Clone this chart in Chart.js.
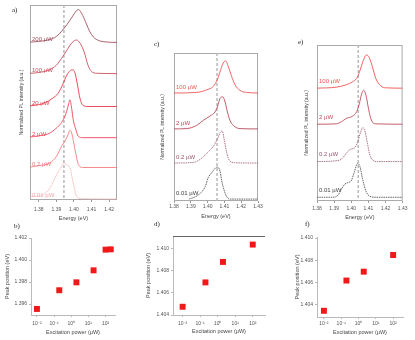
<!DOCTYPE html>
<html>
<head>
<meta charset="utf-8">
<title>PL spectra and peak positions</title>
<script src="https://cdn.jsdelivr.net/npm/chart.js@4.4.1/dist/chart.umd.min.js"></script>
<style>
  html, body { margin: 0; padding: 0; background: #fff; }
  #fig { position: relative; width: 415px; height: 340px; overflow: hidden; }
  #fig canvas { position: absolute; }
  .tag { position: absolute; font: 7px "Liberation Serif", "DejaVu Serif", serif; color: #222; }
</style>
</head>
<body>
<div id="fig">
  <canvas id="specA" width="125" height="222" style="left:0px;top:0px"></canvas>
  <canvas id="specC" width="126" height="182" style="left:140px;top:40px"></canvas>
  <canvas id="specE" width="130" height="192" style="left:280px;top:30px"></canvas>
  <canvas id="peakB" width="125" height="112" style="left:0px;top:228px"></canvas>
  <canvas id="peakD" width="130" height="114" style="left:140px;top:226px"></canvas>
  <canvas id="peakF" width="125" height="114" style="left:285px;top:226px"></canvas>
  <div class="tag" style="left:12px;top:6px">a)</div>
  <div class="tag" style="left:14px;top:222px">b)</div>
  <div class="tag" style="left:154px;top:40px">c)</div>
  <div class="tag" style="left:154px;top:220px">d)</div>
  <div class="tag" style="left:298px;top:38px">e)</div>
  <div class="tag" style="left:305px;top:220px">f)</div>
</div>
<script>
// --- spectra (energy in eV, normalised intensity) ---
const ticksA = [1.38, 1.39, 1.40, 1.41, 1.42];
const ticksCE = [1.38, 1.39, 1.40, 1.41, 1.42, 1.43];

const labelsA = ['200 µW', '100 µW', '20 µW', '2 µW', '0.2 µW', '0.01 µW'];
const offsetsA = [4.46, 3.57, 2.63, 1.74, 0.89, 0];
const specA200 = [[1.375,0.02],[1.380,0.04],[1.386,0.09],[1.390,0.18],[1.393,0.33],[1.396,0.52],[1.399,0.74],[1.4015,0.92],[1.4025,0.95],[1.405,0.78],[1.407,0.55],[1.409,0.32],[1.411,0.17],[1.413,0.09],[1.417,0.03],[1.4245,0.01]];
const specA100 = [[1.375,0.02],[1.380,0.04],[1.386,0.12],[1.390,0.25],[1.393,0.45],[1.396,0.68],[1.399,0.9],[1.4015,0.97],[1.4035,0.88],[1.406,0.6],[1.408,0.25],[1.410,0.07],[1.413,0.02],[1.4245,0.01]];
const specA20 = [[1.375,0.03],[1.380,0.06],[1.384,0.13],[1.388,0.25],[1.391,0.39],[1.394,0.68],[1.396,0.91],[1.398,1.04],[1.3993,1.06],[1.4006,0.97],[1.402,0.63],[1.4034,0.25],[1.405,0.05],[1.408,0.01],[1.4245,0.01]];
const specA2 = [[1.375,0.03],[1.380,0.06],[1.3863,0.14],[1.389,0.24],[1.392,0.38],[1.3939,0.52],[1.3958,0.75],[1.397,0.98],[1.3977,1.09],[1.3987,0.85],[1.3996,0.52],[1.4011,0.24],[1.4025,0.05],[1.405,0.01],[1.4245,0.01]];
const specA02 = [[1.375,0.02],[1.380,0.06],[1.3863,0.14],[1.3901,0.33],[1.393,0.62],[1.3949,0.76],[1.3967,0.95],[1.3977,1.07],[1.3987,1.0],[1.4006,0.52],[1.4025,0.1],[1.405,0.01],[1.4245,0.01]];
const specA001 = [[1.375,0.06],[1.3825,0.12],[1.3863,0.31],[1.3901,0.69],[1.393,0.93],[1.3939,1.03],[1.3958,0.98],[1.3977,0.89],[1.3996,0.46],[1.4015,0.07],[1.404,0.01],[1.4245,0.0]];
const colorsA = ['#a2505e', '#c7505f', '#e43b4b', '#f0465a', '#f17a7e', '#f4a6a8'];

const labelsC = ['100 µW', '2 µW', '0.2 µW', '0.01 µW'];
const offsetsC = [3.31, 2.19, 1.125, 0];
const specC100 = [[1.38,0],[1.3935,0.02],[1.3995,0.1],[1.4034,0.21],[1.4058,0.42],[1.4078,0.73],[1.4093,0.94],[1.4108,1.0],[1.4123,0.83],[1.4143,0.52],[1.4163,0.26],[1.4193,0.08],[1.4233,0.02],[1.43,0]];
const specC2 = [[1.38,0],[1.3875,0.01],[1.3935,0.11],[1.3975,0.27],[1.4014,0.4],[1.4044,0.53],[1.4058,0.69],[1.4074,0.95],[1.409,1.0],[1.4104,0.84],[1.4118,0.53],[1.4133,0.27],[1.4153,0.11],[1.4193,0.01],[1.43,0]];
const specC02 = [[1.38,0],[1.3915,0.02],[1.3965,0.15],[1.4004,0.35],[1.4034,0.52],[1.4058,0.75],[1.4075,0.95],[1.4087,1.0],[1.41,0.7],[1.4115,0.3],[1.413,0.08],[1.416,0.01],[1.43,0]];
const specC001 = [[1.389,0],[1.3945,0.13],[1.3985,0.38],[1.4004,0.67],[1.4024,0.82],[1.4058,1.0],[1.4074,0.87],[1.4084,0.57],[1.4098,0.28],[1.4113,0.08],[1.4133,0],[1.43,0]];
const colorsC = ['#f05656', '#b84a58', '#9a5566', '#3c3c3c'];

const labelsE = ['100 µW', '2 µW', '0.2 µW', '0.01 µW'];
const offsetsE = [3.21, 2.15, 1.05, 0];
const specE100 = [[1.38,0],[1.3913,0.03],[1.3971,0.1],[1.4009,0.19],[1.4032,0.29],[1.4051,0.52],[1.407,0.81],[1.4089,0.98],[1.4105,0.9],[1.4124,0.62],[1.4143,0.29],[1.4172,0.07],[1.4201,0.01],[1.43,0]];
const specE2 = [[1.38,0],[1.3913,0.01],[1.3942,0.07],[1.3971,0.17],[1.4009,0.24],[1.4032,0.37],[1.4047,0.6],[1.406,0.88],[1.4072,1.0],[1.4086,0.85],[1.4099,0.5],[1.4111,0.22],[1.4124,0.06],[1.4143,0.01],[1.43,0]];
const specE02 = [[1.38,0],[1.3903,0.02],[1.3942,0.07],[1.3971,0.24],[1.399,0.35],[1.4009,0.38],[1.4024,0.43],[1.4037,0.57],[1.4051,0.81],[1.4068,1.0],[1.4082,0.86],[1.4095,0.52],[1.4109,0.19],[1.4124,0.05],[1.4153,0],[1.43,0]];
const specE001 = [[1.38,0],[1.3894,0],[1.3924,0.07],[1.3942,0.23],[1.3961,0.38],[1.398,0.43],[1.3999,0.48],[1.4018,0.74],[1.4037,1.0],[1.4051,0.9],[1.4066,0.54],[1.4086,0.18],[1.4105,0.04],[1.4143,0],[1.43,0]];
const colorsE = ['#f25050', '#c04c5a', '#94526a', '#404040'];

const markerA = 1.3943, markerC = 1.4056, markerE = 1.4041;

// --- peak position vs excitation power ---
const powerTicks = [0.01, 0.1, 1, 10, 100];
const powerTickLabels = ['10⁻²', '10⁻¹', '10⁰', '10¹', '10²'];
const powerB = [0.01, 0.2, 2, 20, 100, 200];
const peakB = [1.39555, 1.39725, 1.39797, 1.39906, 1.40094, 1.40097];
const ticksB = [1.396, 1.398, 1.400, 1.402];
const powerDF = [0.01, 0.2, 2, 100];
const peakD = [1.40474, 1.40693, 1.40877, 1.41033];
const peakF = [1.40346, 1.40618, 1.40698, 1.40848];
const ticksDF = [1.404, 1.406, 1.408, 1.410];

Chart.defaults.font.family = '"Liberation Sans", Arial, sans-serif';
Chart.defaults.color = '#555';

// frame, dashed reference line and the power labels over each curve
const spectraDecor = {
    id: 'spectraDecor',
    beforeDatasetsDraw(chart, args, opts) {
        const {ctx, chartArea: a, scales: {x}} = chart;
        ctx.save();
        ctx.strokeStyle = '#aaa';
        ctx.lineWidth = 1;
        ctx.strokeRect(a.left + 0.5, a.top + 0.5, a.width - 1, a.height - 1);
        const px = x.getPixelForValue(opts.marker);
        ctx.strokeStyle = '#b8b8b8';
        ctx.lineWidth = 1.5;
        ctx.setLineDash([3, 2]);
        ctx.beginPath();
        ctx.moveTo(px, a.top);
        ctx.lineTo(px, a.bottom);
        ctx.stroke();
        ctx.restore();
    },
    afterDatasetsDraw(chart, args, opts) {
        const {ctx, chartArea: a, scales: {y}} = chart;
        ctx.save();
        ctx.font = '6px "Liberation Sans", Arial, sans-serif';
        ctx.textBaseline = 'bottom';
        chart.data.datasets.forEach(function (ds) {
            ctx.fillStyle = ds.borderColor;
            ctx.fillText(ds.label, a.left + 2, y.getPixelForValue(ds.stackBase) - opts.gap);
        });
        ctx.restore();
    }
};

const topLine = {
    id: 'topLine',
    afterDraw(chart, args, opts) {
        if (!opts.color) return;
        const {ctx, chartArea: a} = chart;
        ctx.save();
        ctx.strokeStyle = opts.color;
        ctx.lineWidth = 1.2;
        ctx.beginPath();
        ctx.moveTo(a.left, a.top + 0.5);
        ctx.lineTo(a.right, a.top + 0.5);
        ctx.stroke();
        ctx.restore();
    }
};

function spectra(id, o) {
    const datasets = o.curves.map(function (c, i) {
        return {
            label: o.labels[i],
            stackBase: o.offsets[i],
            data: c.map(p => ({x: p[0], y: p[1] + o.offsets[i]})),
            borderColor: o.colors[i],
            borderWidth: o.dashed[i] ? 0.8 : 0.9,
            borderDash: o.dashed[i] ? [1.5, 0.8] : [],
            pointRadius: 0,
            cubicInterpolationMode: 'monotone',
            fill: false
        };
    });
    new Chart(document.getElementById(id), {
        type: 'line',
        data: {datasets: datasets},
        plugins: [spectraDecor],
        options: {
            responsive: false,
            animation: false,
            layout: {padding: o.pad},
            plugins: {
                legend: {display: false},
                tooltip: {enabled: false},
                spectraDecor: {marker: o.marker, gap: o.gap}
            },
            scales: {
                x: {
                    type: 'linear', min: o.xMin, max: o.xMax,
                    afterBuildTicks: s => { s.ticks = o.ticks.map(v => ({value: v})); },
                    afterFit: s => { s.height = o.xH; },
                    ticks: {callback: v => v.toFixed(2), font: {size: 5}, padding: o.tickPad, maxRotation: 0, autoSkip: false},
                    grid: {display: true, drawOnChartArea: false, tickLength: 2, color: '#999'},
                    border: {display: false},
                    title: {display: true, text: 'Energy (eV)', font: {size: 5.5}, color: '#444', padding: {top: 0, bottom: o.xTitlePad}}
                },
                y: {
                    min: o.yMin, max: o.yMax,
                    afterFit: s => { s.width = o.yW; },
                    ticks: {display: false},
                    grid: {display: false},
                    border: {display: false},
                    title: {display: true, text: 'Normalized PL intensity (a.u.)', font: {size: 5}, color: '#444', padding: {top: o.yTitlePad, bottom: 0}}
                }
            }
        }
    });
}

function peaks(id, o) {
    new Chart(document.getElementById(id), {
        type: 'scatter',
        data: {
            datasets: [{
                data: o.x.map((v, i) => ({x: v, y: o.y[i]})),
                pointStyle: 'rect',
                pointRadius: 4.2,
                backgroundColor: '#f01818',
                borderWidth: 0
            }]
        },
        plugins: [topLine],
        options: {
            responsive: false,
            animation: false,
            clip: false,
            layout: {padding: o.pad},
            plugins: {legend: {display: false}, tooltip: {enabled: false}, topLine: {color: o.top}},
            scales: {
                x: {
                    type: 'logarithmic', min: o.xMin, max: o.xMax,
                    afterBuildTicks: s => { s.ticks = powerTicks.map(v => ({value: v})); },
                    afterFit: s => { s.height = o.xH; },
                    ticks: {callback: (v, i) => powerTickLabels[i], font: {size: 5}, padding: o.tickPad, maxRotation: 0, autoSkip: false},
                    grid: {display: true, drawOnChartArea: false, tickLength: 2, color: '#bbb'},
                    border: {color: '#bbb'},
                    title: {display: true, text: 'Excitation power (µW)', font: {size: 5.5}, color: '#444', padding: {top: 0, bottom: o.xTitlePad}}
                },
                y: {
                    min: o.yMin, max: o.yMax,
                    afterBuildTicks: s => { s.ticks = o.ticks.map(v => ({value: v})); },
                    afterFit: s => { s.width = o.yW; },
                    ticks: {callback: v => v.toFixed(3), font: {size: 5}, padding: 2},
                    grid: {display: true, drawOnChartArea: false, tickLength: 2, color: '#bbb'},
                    border: {color: '#bbb'},
                    title: {display: true, text: 'Peak position (eV)', font: {size: 5.5}, color: '#444', padding: {top: o.yTitlePad, bottom: 0}}
                }
            }
        }
    });
}

spectra('specA', {
    curves: [specA200, specA100, specA20, specA2, specA02, specA001],
    labels: labelsA, offsets: offsetsA, colors: colorsA,
    dashed: [false, false, false, false, false, true],
    ticks: ticksA, marker: markerA, gap: 0.5,
    xMin: 1.375, xMax: 1.4245, yMin: -0.03, yMax: 5.54,
    pad: {left: 0, top: 5, right: 8, bottom: 0},
    yW: 30, xH: 22, tickPad: 4.5, xTitlePad: 0.7, yTitlePad: 19
});

spectra('specC', {
    curves: [specC100, specC2, specC02, specC001],
    labels: labelsC, offsets: offsetsC, colors: colorsC,
    dashed: [false, false, true, true],
    ticks: ticksCE, marker: markerC, gap: 3,
    xMin: 1.38, xMax: 1.43, yMin: -0.06, yMax: 4.56,
    pad: {left: 0, top: 13, right: 8, bottom: 0},
    yW: 34, xH: 21, tickPad: 0.5, xTitlePad: 2.7, yTitlePad: 20
});

spectra('specE', {
    curves: [specE100, specE2, specE02, specE001],
    labels: labelsE, offsets: offsetsE, colors: colorsE,
    dashed: [false, false, true, true],
    ticks: ticksCE, marker: markerE, gap: 4,
    xMin: 1.38, xMax: 1.43, yMin: -0.11, yMax: 4.48,
    pad: {left: 0, top: 15, right: 6, bottom: 0},
    yW: 37, xH: 21, tickPad: 2.5, xTitlePad: 1.7, yTitlePad: 24
});

peaks('peakB', {
    x: powerB, y: peakB, ticks: ticksB,
    xMin: 0.0045, xMax: 355, yMin: 1.395, yMax: 1.402,
    pad: {left: 0, top: 10, right: 10, bottom: 0},
    yW: 31, xH: 25, tickPad: 3.5, xTitlePad: 4.7, yTitlePad: 3.7
});

peaks('peakD', {
    x: powerDF, y: peakD, ticks: ticksDF, top: '#666',
    xMin: 0.00282, xMax: 500, yMin: 1.404, yMax: 1.4111,
    pad: {left: 0, top: 10, right: 5, bottom: 0},
    yW: 33, xH: 25, tickPad: 3.5, xTitlePad: 5, yTitlePad: 4.7
});

peaks('peakF', {
    x: powerDF, y: peakF, ticks: ticksDF,
    xMin: 0.00398, xMax: 372, yMin: 1.4029, yMax: 1.4101,
    pad: {left: 0, top: 11, right: 7, bottom: 0},
    yW: 32, xH: 23, tickPad: 1.5, xTitlePad: 4.7, yTitlePad: 8.7
});
</script>
</body>
</html>
